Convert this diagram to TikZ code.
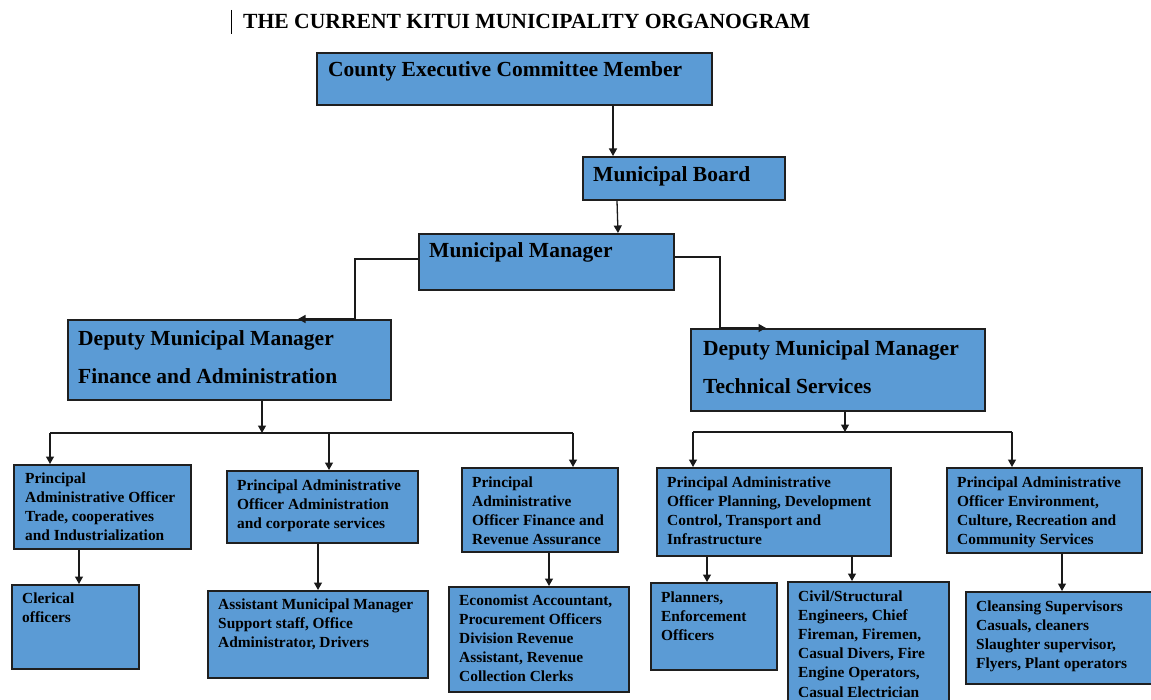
\documentclass[tikz,border=0pt]{standalone}
\usepackage{fontspec}
\setmainfont{Liberation Serif}
\usetikzlibrary{arrows.meta}
\definecolor{boxfill}{HTML}{5B9BD5}
\definecolor{boxline}{HTML}{1F1F1F}
\definecolor{connline}{HTML}{1A1A1A}
\tikzset{
  box/.style={draw=boxline, fill=boxfill, line width=1.8pt, anchor=north west, inner sep=0pt},
  bigtxt/.style={anchor=base west, inner sep=0pt, align=left, font=\bfseries\fontsize{21.5}{38}\selectfont},
  smalltxt/.style={anchor=base west, inner sep=0pt, align=left, font=\bfseries\fontsize{15.4}{19.2}\selectfont},
  conn/.style={draw=connline, line width=1.3pt},
  arr/.style={conn, -{Triangle[length=7.5pt,width=8pt]}}
}
\begin{document}
\begin{tikzpicture}[x=1pt,y=-1pt]
\clip (0,0) rectangle (1151,700);
\fill[white] (0,0) rectangle (1151,700);
% title
\node[anchor=base west, inner sep=0pt, font=\bfseries\fontsize{21.6}{24}\selectfont] (title) at (243,29) {THE CURRENT KITUI MUNICIPALITY ORGANOGRAM};
\coordinate (barT) at (231,10);
\coordinate (barB) at (231,34);
\draw[line width=0.9pt, black] (barT) -- (barB);
% boxes
\node[box, minimum width=395pt, minimum height=52pt] (cec) at (316,52) {};
\node[box, minimum width=202pt, minimum height=43pt] (mb) at (582,156) {};
\node[box, minimum width=255pt, minimum height=56pt] (mm) at (418,233) {};
\node[box, minimum width=323pt, minimum height=80pt] (dmf) at (67,319) {};
\node[box, minimum width=294pt, minimum height=82pt] (dmt) at (690,328) {};
\node[box, minimum width=177pt, minimum height=84pt] (b1) at (13,464) {};
\node[box, minimum width=191pt, minimum height=72pt] (b2) at (226,470) {};
\node[box, minimum width=156pt, minimum height=84pt] (b3) at (461,467) {};
\node[box, minimum width=234pt, minimum height=88pt] (b4) at (656,467) {};
\node[box, minimum width=195pt, minimum height=85pt] (b5) at (946,467) {};
\node[box, minimum width=127pt, minimum height=84pt] (c1) at (11,584) {};
\node[box, minimum width=220pt, minimum height=87pt] (c2) at (207,590) {};
\node[box, minimum width=180pt, minimum height=105pt] (c3) at (448,586) {};
\node[box, minimum width=126pt, minimum height=87pt] (c4) at (650,582) {};
\node[box, minimum width=161pt, minimum height=135pt] (c5) at (787,581) {};
\node[box, minimum width=187pt, minimum height=92pt] (c6) at (965,591) {};
% texts (anchored at the baseline of the last line)
\node[bigtxt] (cecT) at (328,77) {County Executive Committee Member};
\node[bigtxt] (mbT) at (593,182) {Municipal Board};
\node[bigtxt] (mmT) at (429,258) {Municipal Manager};
\node[bigtxt] (dmfT) at (78,384) {Deputy Municipal Manager\\Finance and Administration};
\node[bigtxt] (dmtT) at (703,393) {Deputy Municipal Manager\\Technical Services};
\node[smalltxt] (b1T) at (25,540.6) {Principal\\Administrative Officer\\Trade, cooperatives\\and Industrialization};
\node[smalltxt] (b2T) at (237,528.4) {Principal Administrative\\Officer Administration\\and corporate services};
\node[smalltxt] (b3T) at (472,544.6) {Principal\\Administrative\\Officer Finance and\\Revenue Assurance};
\node[smalltxt] (b4T) at (667,544.6) {Principal Administrative\\Officer Planning, Development\\Control, Transport and\\Infrastructure};
\node[smalltxt] (b5T) at (957,544.6) {Principal Administrative\\Officer Environment,\\Culture, Recreation and\\Community Services};
\node[smalltxt] (c1T) at (22,622.2) {Clerical\\officers};
\node[smalltxt] (c2T) at (218,647.4) {Assistant Municipal Manager\\Support staff, Office\\Administrator, Drivers};
\node[smalltxt] (c3T) at (459,681.8) {Economist Accountant,\\Procurement Officers\\Division Revenue\\Assistant, Revenue\\Collection Clerks};
\node[smalltxt] (c4T) at (661,640.4) {Planners,\\Enforcement\\Officers};
\node[smalltxt] (c5T) at (798,697) {Civil/Structural\\Engineers, Chief\\Fireman, Firemen,\\Casual Divers, Fire\\Engine Operators,\\Casual Electrician};
\node[smalltxt] (c6T) at (976,668.6) {Cleansing Supervisors\\Casuals, cleaners\\Slaughter supervisor,\\Flyers, Plant operators};
% connectors top
\draw[arr] ([xshift=297pt]cec.south west) -- ([xshift=31pt]mb.north west);
\draw[arr] ([xshift=35pt]mb.south west) -- ([xshift=200pt]mm.north west);
\draw[arr] ([yshift=-26pt]mm.north west) -| ([xshift=288pt]dmf.north west) -- ([xshift=231pt]dmf.north west);
\draw[arr] ([yshift=-24pt]mm.north east) -| ([xshift=30pt]dmt.north west) -- ([xshift=76pt]dmt.north west);
% left bus
\coordinate (busL1) at (50,433);
\coordinate (busLm) at (262,433);
\coordinate (busL2) at (329,433);
\coordinate (busL3) at (573,433);
\draw[arr] ([xshift=195pt]dmf.south west) -- (busLm);
\draw[conn] (busL1) -- (busL3);
\draw[arr] (busL1) -- ([xshift=37pt]b1.north west);
\draw[arr] (busL2) -- ([xshift=103pt]b2.north west);
\draw[arr] (busL3) -- ([xshift=112pt]b3.north west);
% right bus
\coordinate (busR1) at (693,432);
\coordinate (busRm) at (845,432);
\coordinate (busR2) at (1012,432);
\draw[arr] ([xshift=155pt]dmt.south west) -- (busRm);
\draw[conn] (busR1) -- (busR2);
\draw[arr] (busR1) -- ([xshift=37pt]b4.north west);
\draw[arr] (busR2) -- ([xshift=66pt]b5.north west);
% lower arrows
\draw[arr] ([xshift=66pt]b1.south west) -- ([xshift=68pt]c1.north west);
\draw[arr] ([xshift=92pt]b2.south west) -- ([xshift=111pt]c2.north west);
\draw[arr] ([xshift=88pt]b3.south west) -- ([xshift=101pt]c3.north west);
\draw[arr] ([xshift=51pt]b4.south west) -- ([xshift=57pt]c4.north west);
\draw[arr] ([xshift=196pt]b4.south west) -- ([xshift=65pt]c5.north west);
\draw[arr] ([xshift=116pt]b5.south west) -- ([xshift=97pt]c6.north west);
\end{tikzpicture}
\end{document}
